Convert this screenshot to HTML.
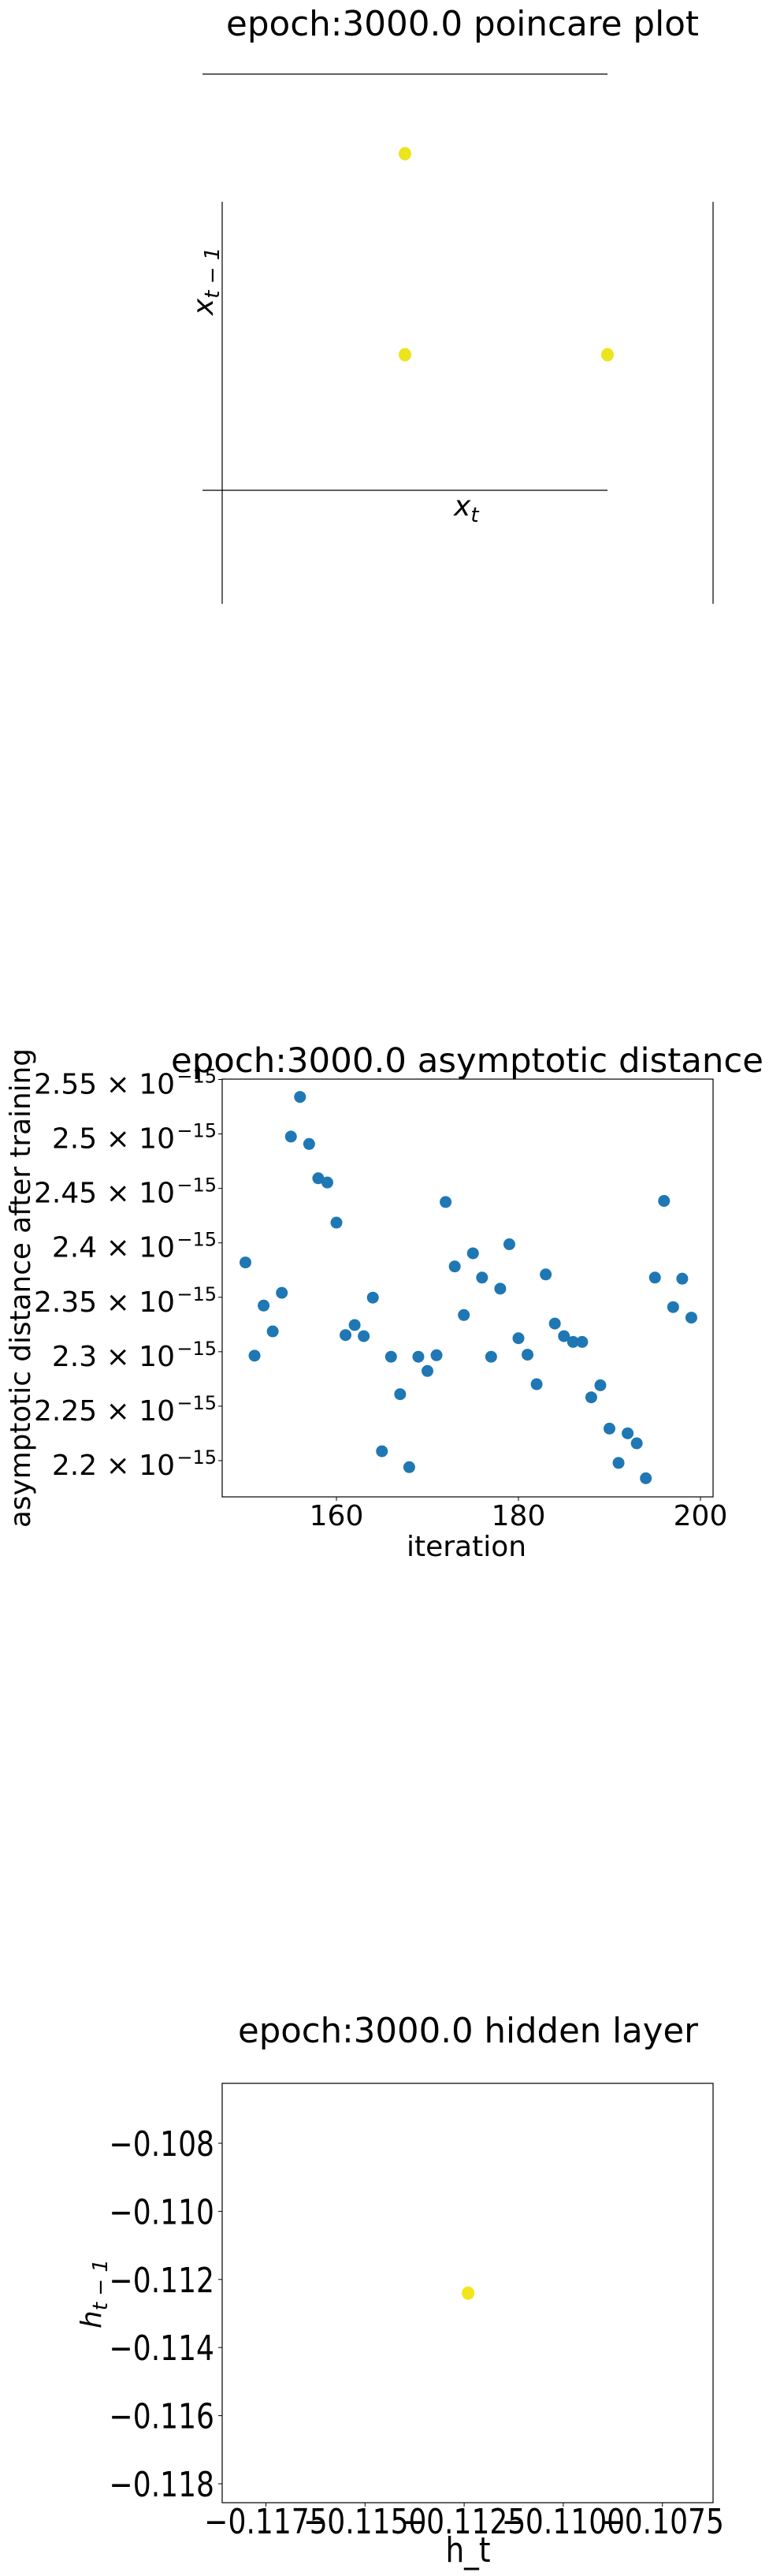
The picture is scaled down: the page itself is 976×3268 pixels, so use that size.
<!DOCTYPE html>
<html><head><meta charset="utf-8"><style>
html,body{margin:0;padding:0;background:#fff;}
svg{display:block;font-family:"DejaVu Sans","Liberation Sans",sans-serif;}
</style></head><body>
<svg id="s" width="976" height="3268" viewBox="0 0 976 3268" xmlns="http://www.w3.org/2000/svg">
<rect width="976" height="3268" fill="#fff"/>
<g id="c1">
<text x="287" y="45" font-size="44" textLength="600" lengthAdjust="spacingAndGlyphs">epoch:3000.0 poincare plot</text>
<line x1="257" y1="94" x2="771" y2="94" stroke="#000" stroke-width="1.2"/>
<line x1="257" y1="622" x2="771" y2="622" stroke="#000" stroke-width="1.2"/>
<line x1="282" y1="256" x2="282" y2="766" stroke="#000" stroke-width="1.2"/>
<line x1="905" y1="256" x2="905" y2="766" stroke="#000" stroke-width="1.2"/>
<text x="576" y="654" font-size="36" font-style="italic">x<tspan font-size="26" dy="8">t</tspan></text>
<text transform="translate(270,400) rotate(-90)" font-size="36" font-style="italic">x<tspan font-size="26" dy="8">t − 1</tspan></text>
</g>
<g id="c2">
<text x="217" y="1360" font-size="43" textLength="752" lengthAdjust="spacingAndGlyphs">epoch:3000.0 asymptotic distance</text>
<rect x="282" y="1369" width="623" height="530" fill="none" stroke="#000" stroke-width="1.2"/>
<text transform="translate(38,1634) rotate(-90)" font-size="36" text-anchor="middle" textLength="608" lengthAdjust="spacingAndGlyphs">asymptotic distance after training</text>
<text x="592" y="1974" font-size="36" text-anchor="middle">iteration</text>
</g>
<g id="c3">
<text x="302" y="2591" font-size="44" textLength="584" lengthAdjust="spacingAndGlyphs">epoch:3000.0 hidden layer</text>
<rect x="282" y="2643" width="623" height="532" fill="none" stroke="#000" stroke-width="1.2"/>
<text transform="translate(594,3250) scale(0.85,1)" font-size="44" text-anchor="middle">h_t</text>
<text transform="translate(128,2910) rotate(-90)" font-size="36" font-style="italic" text-anchor="middle">h<tspan font-size="26" dy="8">t − 1</tspan></text>
</g>
</svg>
<script>
const poincareX = [0.5, 0.5, 1.0];
const poincareY = [1.0, 0.5, 0.5];
const iterations = [150,151,152,153,154,155,156,157,158,159,160,161,162,163,164,165,166,167,168,169,170,171,172,173,174,175,176,177,178,179,180,181,182,183,184,185,186,187,188,189,190,191,192,193,194,195,196,197,198,199];
const distances = [2.382,2.2964,2.3424,2.3187,2.3541,2.4976,2.534,2.4908,2.4593,2.4554,2.4186,2.3153,2.3245,2.3143,2.3497,2.2086,2.2954,2.2610,2.1940,2.2954,2.2823,2.2968,2.4375,2.3783,2.3337,2.3904,2.3681,2.2954,2.3579,2.3987,2.3124,2.2973,2.2702,2.3710,2.3259,2.3143,2.3090,2.3090,2.2581,2.2692,2.2294,2.1979,2.2251,2.2159,2.1838,2.3681,2.4385,2.3410,2.3671,2.3313];
const yTicks2 = [2.55,2.5,2.45,2.4,2.35,2.3,2.25,2.2];
const yTickLabels2 = ["2.55","2.5","2.45","2.4","2.35","2.3","2.25","2.2"];
const xTicks2 = [160,180,200];
const hiddenX = [-0.1124];
const hiddenY = [-0.1124];
const xTicks3 = [-0.1175,-0.115,-0.1125,-0.11,-0.1075];
const xTickLabels3 = ["−0.1175","−0.1150","−0.1125","−0.1100","−0.1075"];
const yTicks3 = [-0.108,-0.110,-0.112,-0.114,-0.116,-0.118];
const yTickLabels3 = ["−0.108","−0.110","−0.112","−0.114","−0.116","−0.118"];

const NS="http://www.w3.org/2000/svg";
function mk(tag,attrs,parent,txt){const e=document.createElementNS(NS,tag);for(const k in attrs)e.setAttribute(k,attrs[k]);if(txt!==undefined)e.textContent=txt;parent.appendChild(e);return e;}

const c1=document.getElementById('c1');
const sx1=v=>514+(v-0.5)/0.5*257;
const sy1=v=>450-(v-0.5)/0.5*255;
poincareX.forEach((v,i)=>{
  const c=mk('ellipse',{cx:sx1(v),cy:sy1(poincareY[i]),rx:8,ry:8.5,fill:'#ece41c'},c1);
  
  
});

const c2=document.getElementById('c2');
const sx2=v=>427+(v-160)*(231/20);
const sy2=v=>1369.5+(2.55-v)/0.05*69.07;
yTicks2.forEach((v,i)=>{
  const y=sy2(v);
  const t=mk('line',{x1:277,x2:282,y1:y,y2:y,stroke:'#000','stroke-width':1},c2);
  
  
  const tx=mk('text',{x:222,y:y+18,'font-size':36,'text-anchor':'end'},c2,yTickLabels2[i]+" × 10");
  
  
  const sup=mk('text',{x:275,y:y+4,'font-size':24,'text-anchor':'end'},c2,"−15");
  
  
});
xTicks2.forEach(v=>{
  const x=sx2(v);
  const t=mk('line',{x1:x,x2:x,y1:1899,y2:1904,stroke:'#000','stroke-width':1},c2);
  
  
  const tx=mk('text',{x:x,y:1935,'font-size':36,'text-anchor':'middle'},c2,String(v));
  
  
});
iterations.forEach((v,i)=>{
  const c=mk('circle',{cx:sx2(v),cy:sy2(distances[i]),r:7.5,fill:'#1f77b4'},c2);
  
  
});

const c3=document.getElementById('c3');
const sx3=v=>337.5+(v+0.1175)/0.0025*125.8;
const sy3=v=>2719+(-0.108-v)/0.002*86.4;
yTicks3.forEach((v,i)=>{
  const y=sy3(v);
  const t=mk('line',{x1:277,x2:282,y1:y,y2:y,stroke:'#000','stroke-width':1},c3);
  
  
  const tx=mk('text',{transform:`translate(272,${y+16}) scale(0.82,1)`,'font-size':44,'text-anchor':'end'},c3,yTickLabels3[i]);
  
  
});
xTicks3.forEach((v,i)=>{
  const x=sx3(v);
  const t=mk('line',{x1:x,x2:x,y1:3175,y2:3180,stroke:'#000','stroke-width':1},c3);
  
  
  const tx=mk('text',{transform:`translate(${x},3214) scale(0.82,1)`,'font-size':44,'text-anchor':'middle'},c3,xTickLabels3[i]);
  
  
});
hiddenX.forEach((v,i)=>{
  const c=mk('ellipse',{cx:sx3(v),cy:sy3(hiddenY[i]),rx:8,ry:8.5,fill:'#f3e51c'},c3);
  
  
});
</script>
</body></html>
